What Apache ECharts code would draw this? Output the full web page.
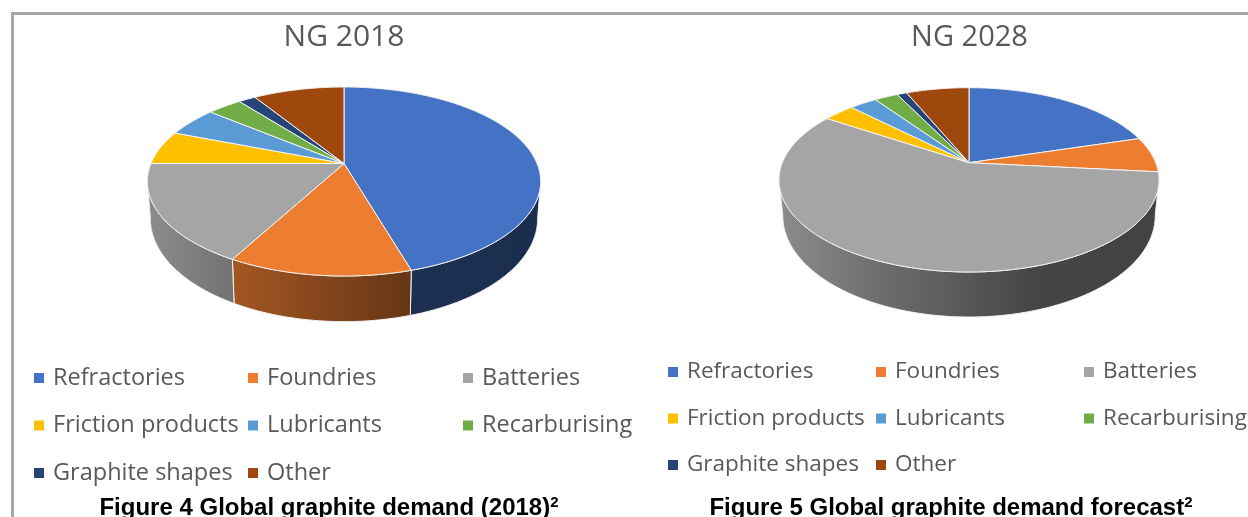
<!DOCTYPE html>
<html>
<head>
<meta charset="utf-8">
<title>Global graphite demand</title>
<style>
  html, body { margin: 0; padding: 0; background: #fff; }
  #main { width: 1248px; height: 517px; }
</style>
<script src="https://cdn.jsdelivr.net/npm/echarts@6/dist/echarts.min.js"></script>
</head>
<body>
<div id="main"></div>
<script>
"use strict";

// 数据 (percent)
let categories = ['Refractories', 'Foundries', 'Batteries', 'Friction products', 'Lubricants', 'Recarburising', 'Graphite shapes', 'Other'];
let values2018 = [45.4, 12.6, 17.0, 5.8, 5.1, 3.4, 1.7, 9.0];
let values2028 = [20.4, 6.2, 57.6, 3.2, 2.8, 2.4, 1.0, 6.4];
let colors = ['#4472C4', '#ED7D31', '#A5A5A5', '#FFC000', '#5B9BD5', '#70AD47', '#264478', '#9E480E'];
let pieTitles = ['NG 2018', 'NG 2028'];
let captions = ['Figure 4 Global graphite demand (2018)', 'Figure 5 Global graphite demand forecast'];

let textColor = '#595959';
let legendFont = 'Open Sans';

// perspective settings of the two tilted pies
let geo2018 = { cx: 344, apex: 163.5, back: 76.5, front: 112.5, halfW: 196.6, wallScale: 1.09, wallApex: 199, wallW: 0.985 };
let geo2028 = { cx: 969, apex: 162.7, back: 75, front: 109.3, halfW: 190, wallScale: 1.098, wallApex: 197, wallW: 0.98 };

let myChart = echarts.init(document.getElementById('main'));

// darken a colour by factor f
function shade(hex, f) {
  let n = parseInt(hex.slice(1), 16);
  let r = Math.round(((n >> 16) & 255) * f);
  let g = Math.round(((n >> 8) & 255) * f);
  let b = Math.round((n & 255) * f);
  return 'rgb(' + r + ',' + g + ',' + b + ')';
}

// angle is degrees clockwise from the top of the pie
function project(geo, deg, wall) {
  let k = (geo.front - geo.back) / (geo.front + geo.back);
  let b = geo.front * (1 - k);
  let rx = geo.halfW * Math.sqrt(1 - k * k);
  let t = deg * Math.PI / 180;
  let X = Math.sin(t);
  let Y = -Math.cos(t);
  let w = 1 - k * Y;
  if (wall) {
    return [geo.cx + geo.wallW * rx * X / w, geo.wallApex + geo.wallScale * b * Y / w];
  }
  return [geo.cx + rx * X / w, geo.apex + b * Y / w];
}

function arc(geo, from, to, wall) {
  let pts = [];
  let steps = Math.max(2, Math.ceil((to - from) * 2));
  for (let i = 0; i <= steps; i++) {
    pts.push(project(geo, from + (to - from) * i / steps, wall));
  }
  return pts;
}

function makeSlice(geo, color) {
  return function (params, api) {
    let start = api.value(0) * 3.6;
    let end = api.value(1) * 3.6;
    let children = [];
    // only the part of the rim that faces the viewer gets a wall
    let k = (geo.front - geo.back) / (geo.front + geo.back);
    let edge = Math.acos(k) * 180 / Math.PI;
    let from = Math.max(start, 90 + (90 - edge));
    let to = Math.min(end, 270 - (90 - edge));
    if (to > from) {
      let top = arc(geo, from, to, false);
      let bottom = arc(geo, from, to, true).reverse();
      children.push({
        type: 'polygon',
        shape: { points: top.concat(bottom) },
        style: {
          fill: new echarts.graphic.LinearGradient(geo.cx - geo.halfW, 0, geo.cx + geo.halfW, 0, [
            { offset: 0, color: shade(color, 0.85) },
            { offset: 0.25, color: shade(color, 0.67) },
            { offset: 0.68, color: shade(color, 0.42) },
            { offset: 1, color: shade(color, 0.4) },
          ], true),
          stroke: '#f4f4f4',
          lineWidth: 1,
        },
      });
    }
    children.push({
      type: 'polygon',
      shape: { points: [[geo.cx, geo.apex]].concat(arc(geo, start, end, false)) },
      style: { fill: color, stroke: '#f4f4f4', lineWidth: 1 },
    });
    return { type: 'group', children: children };
  };
}

function pieSeries(values, geo) {
  let sum = 0;
  return values.map(function (v, i) {
    let start = sum;
    sum += v;
    return {
      name: categories[i],
      type: 'custom',
      coordinateSystem: 'none',
      silent: true,
      itemStyle: { color: colors[i] },
      data: [[start, sum]],
      renderItem: makeSlice(geo, colors[i]),
    };
  });
}

function legendColumn(names, left, top, gap, size) {
  return {
    orient: 'vertical',
    left: left,
    top: top,
    data: names,
    selectedMode: false,
    icon: 'rect',
    itemWidth: 10,
    itemHeight: 10,
    itemGap: gap,
    textStyle: {
      color: textColor,
      fontFamily: legendFont,
      fontSize: size,
      lineHeight: 24,
      padding: [0, 0, 0, 4],
    },
  };
}

function captionTitle(text, left) {
  return {
    text: text + '{sup|2}',
    left: left,
    top: 490,
    textAlign: 'center',
    textStyle: {
      color: '#000',
      fontFamily: 'Liberation Sans',
      fontSize: 24,
      fontWeight: 'bold',
      rich: {
        sup: { fontFamily: 'Liberation Sans', fontSize: 15, fontWeight: 'bold', color: '#000', verticalAlign: 'top', padding: [0, 0, 12, 0] },
      },
    },
  };
}

let col1 = [categories[0], categories[3], categories[6]];
let col2 = [categories[1], categories[4], categories[7]];
let col3 = [categories[2], categories[5]];

let option = {
  animation: false,
  backgroundColor: '#fff',
  title: [
    { text: pieTitles[0], left: 339, top: 17, textAlign: 'center', textStyle: { color: textColor, fontFamily: legendFont, fontSize: 30, fontWeight: 'normal' } },
    { text: pieTitles[1], left: 964.5, top: 18, textAlign: 'center', textStyle: { color: textColor, fontFamily: legendFont, fontSize: 29, fontWeight: 'normal' } },
    captionTitle(captions[0], 324),
    captionTitle(captions[1], 946),
  ],
  legend: [
    legendColumn(col1, 29, 361, 23.5, 23.5),
    legendColumn(col2, 243, 361, 23.5, 23.5),
    legendColumn(col3, 458, 361, 23.5, 23.5),
    legendColumn(col1, 663, 355, 22.5, 22.5),
    legendColumn(col2, 871, 355, 22.5, 22.5),
    legendColumn(col3, 1079, 355, 22.5, 22.5),
  ],
  graphic: [
    { // 边框
      type: 'polyline',
      shape: { points: [[12.5, 517], [12.5, 13.5], [1248, 13.5]] },
      style: { stroke: '#a6a6a6', lineWidth: 3, fill: 'none' },
      silent: true,
    },
  ],
  series: pieSeries(values2018, geo2018).concat(pieSeries(values2028, geo2028)),
};

myChart.setOption(option);
</script>
</body>
</html>
